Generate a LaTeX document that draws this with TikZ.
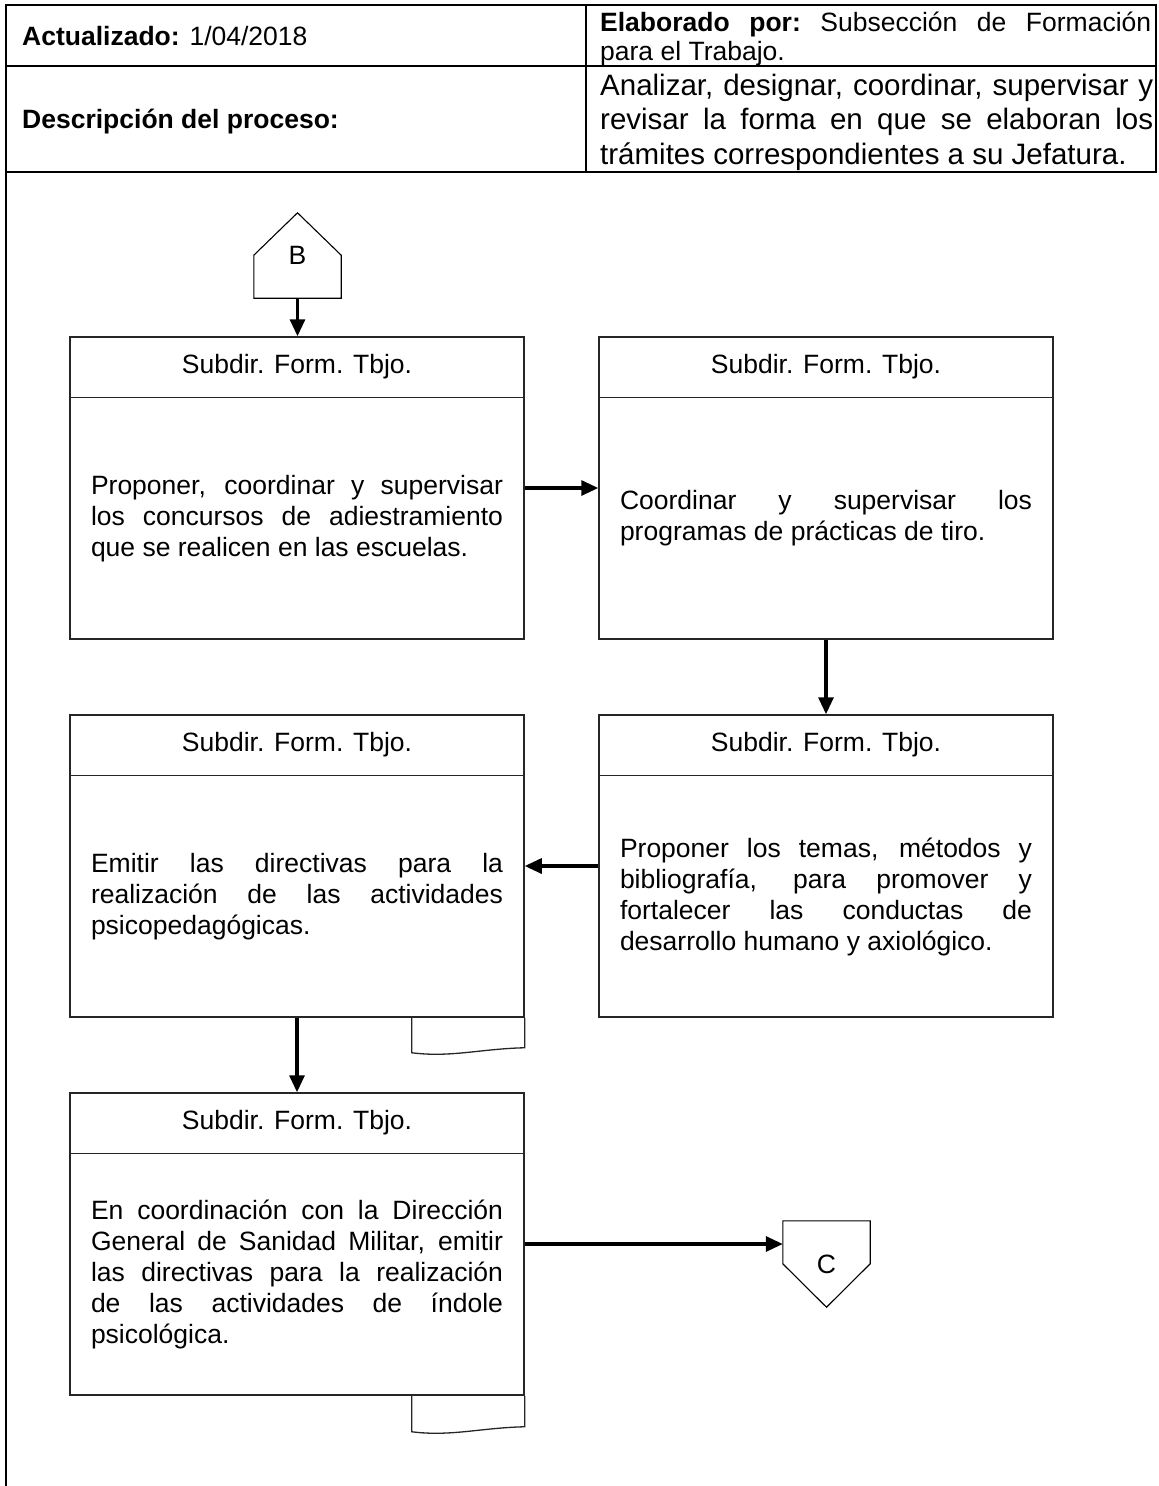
\documentclass[tikz,border=0pt]{standalone}
\usepackage{fontspec}
\setmainfont{Liberation Sans}
\usetikzlibrary{arrows.meta,calc}
\newcommand{\jl}[2]{\makebox[#1][s]{#2}}
\tikzset{
  tbl/.style={line width=1.3pt, draw=black},
  box/.style={draw=black!85, line width=1.5pt, rectangle, minimum width=454pt, minimum height=302pt, inner sep=0pt},
  boxline/.style={draw=black!85, line width=1.5pt},
  hdr/.style={font=\fontsize{26.5}{31}\selectfont, inner sep=0pt},
  body/.style={font=\fontsize{26.5}{31}\selectfont, align=left, inner sep=0pt},
  arr/.style={line width=3.2pt, -{Triangle[length=17pt,width=15pt]}},
  docw/.style={draw=black!85, line width=1.3pt},
  conn/.style={minimum width=87pt, inner sep=0pt, font=\fontsize{26.5}{31}\selectfont},
  pent/.style={draw=black, line width=1.1pt},
  htxt/.style={anchor=west, inner sep=0pt, align=left},
}
\begin{document}
\begin{tikzpicture}[x=1pt,y=-1pt]
\useasboundingbox (0,0) rectangle (1159,1486);
% header table
\draw[tbl] (6,5) rectangle (1156,172);
\draw[tbl] (586,5) -- (586,172);
\draw[tbl] (6,66) -- (1156,66);
\draw[tbl] (6,172) -- (6,1486);
\node[htxt, font=\fontsize{26.5}{31}\selectfont] (act) at (22,36) {\textbf{Actualizado:} 1/04/2018};
\node[htxt, font=\fontsize{26.5}{29}\selectfont] (elab) at (600,39) {\jl{551pt}{\textbf{Elaborado por:}\ Subsección de Formación}\\para el Trabajo.};
\node[htxt, font=\fontsize{26.5}{31}\selectfont] (desc) at (22,122) {\textbf{Descripción del proceso:}};
\node[htxt, font=\fontsize{29.5}{34.5}\selectfont] (descr) at (600,122) {\jl{553pt}{Analizar, designar, coordinar, supervisar y}\\\jl{553pt}{revisar la forma en que se elaboran los}\\trámites correspondientes a su Jefatura.};

% connector B
\node[conn, minimum height=85pt] (B) at (297.5,255.5) {B};
\draw[pent] (B.south west) -- ($(B.south west)+(0,-43)$) -- (B.north) -- ($(B.south east)+(0,-43)$) -- (B.south east) -- cycle;

% boxes
\node[box] (b1) at (297,488) {};
\node[box] (b2) at (826,488) {};
\node[box] (b3) at (297,866) {};
\node[box] (b4) at (826,866) {};
\node[box] (b5) at (297,1244) {};
\foreach \b in {b1,b2,b3,b4,b5}{
  \draw[boxline] ($(\b.north west)+(0,61)$) -- ($(\b.north east)+(0,61)$);
  \node[hdr] (\b h) at ($(\b.north)+(0,30.5)$) {Subdir. Form. Tbjo.};
}
\node[body] (t1) at ($(b1.center)+(0,30.5)$) {\jl{412pt}{Proponer, coordinar y supervisar}\\\jl{412pt}{los concursos de adiestramiento}\\que se realicen en las escuelas.};
\node[body] (t2) at ($(b2.center)+(0,30.5)$) {\jl{412pt}{Coordinar y supervisar los}\\programas de prácticas de tiro.};
\node[body] (t3) at ($(b3.center)+(0,30.5)$) {\jl{412pt}{Emitir las directivas para la}\\\jl{412pt}{realización de las actividades}\\psicopedagógicas.};
\node[body] (t4) at ($(b4.center)+(0,30.5)$) {\jl{412pt}{Proponer los temas, métodos y}\\\jl{412pt}{bibliografía, para promover y}\\\jl{412pt}{fortalecer las conductas de}\\desarrollo humano y axiológico.};
\node[body] (t5) at ($(b5.center)+(0,30.5)$) {\jl{412pt}{En coordinación con la Dirección}\\\jl{412pt}{General de Sanidad Militar, emitir}\\\jl{412pt}{las directivas para la realización}\\\jl{412pt}{de las actividades de índole}\\psicológica.};

% document waves
\draw[docw] ($(b3.south east)+(-113,0)$) -- ++(0,35) .. controls +(39,5) and +(-44,1) .. ($(b3.south east)+(0,30)$) -- (b3.south east);
\draw[docw] ($(b5.south east)+(-113,0)$) -- ++(0,36) .. controls +(39,5) and +(-44,1) .. ($(b5.south east)+(0,31)$) -- (b5.south east);

% connector C
\node[conn, minimum height=86pt] (C) at (826.5,1264) {C};
\draw[pent] (C.north west) -- (C.north east) -- ($(C.north east)+(0,43)$) -- (C.south) -- ($(C.north west)+(0,43)$) -- cycle;

% arrows
\draw[arr] (B.south) -- (B.south |- b1.north);
\draw[arr] (b1.east) -- (b2.west);
\draw[arr] (b2.south) -- (b4.north);
\draw[arr] (b4.west) -- (b3.east);
\draw[arr] (b3.south) -- (b5.north);
\draw[arr] (b5.east) -- (b5.east -| C.west);
\end{tikzpicture}
\end{document}
